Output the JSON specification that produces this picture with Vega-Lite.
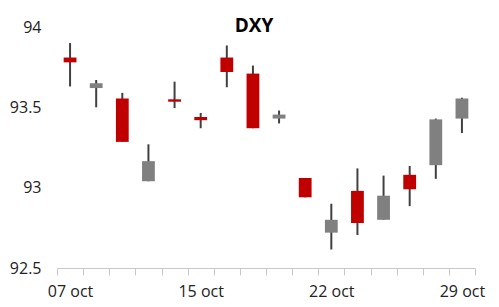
{
  "$schema": "https://vega.github.io/schema/vega-lite/v6.json",
  "autosize": "none",
  "padding": {"left": 57, "top": 27, "right": 24, "bottom": 39},
  "width": 418,
  "height": 241,
  "background": "white",
  "title": {
    "text": "DXY",
    "font": "Open Sans",
    "fontSize": 19,
    "fontWeight": "bold",
    "color": "#000000",
    "anchor": "middle",
    "baseline": "alphabetic",
    "dx": -12,
    "offset": -14,
    "dy": 18
  },
  "config": {
    "view": {"stroke": null},
    "axis": {"labelFont": "Open Sans", "labelFontSize": 16, "labelColor": "#222222", "grid": false, "title": null}
  },
  "data": {
    "values": [
      {"date": "07 oct", "open": 93.81, "high": 93.90, "low": 93.63, "close": 93.78},
      {"date": "08 oct", "open": 93.62, "high": 93.67, "low": 93.50, "close": 93.65},
      {"date": "09 oct", "open": 93.555, "high": 93.59, "low": 93.285, "close": 93.285},
      {"date": "12 oct", "open": 93.04, "high": 93.27, "low": 93.04, "close": 93.165},
      {"date": "13 oct", "open": 93.55, "high": 93.66, "low": 93.495, "close": 93.535},
      {"date": "15 oct", "open": 93.44, "high": 93.465, "low": 93.37, "close": 93.42},
      {"date": "16 oct", "open": 93.81, "high": 93.885, "low": 93.625, "close": 93.72},
      {"date": "19 oct", "open": 93.71, "high": 93.76, "low": 93.37, "close": 93.37},
      {"date": "20 oct", "open": 93.43, "high": 93.48, "low": 93.40, "close": 93.455},
      {"date": "21 oct", "open": 93.06, "high": 93.06, "low": 92.94, "close": 92.94},
      {"date": "22 oct", "open": 92.72, "high": 92.90, "low": 92.615, "close": 92.80},
      {"date": "23 oct", "open": 92.98, "high": 93.12, "low": 92.705, "close": 92.78},
      {"date": "26 oct", "open": 92.80, "high": 93.075, "low": 92.80, "close": 92.95},
      {"date": "27 oct", "open": 93.08, "high": 93.135, "low": 92.885, "close": 92.99},
      {"date": "28 oct", "open": 93.14, "high": 93.43, "low": 93.055, "close": 93.425},
      {"date": "29 oct", "open": 93.43, "high": 93.56, "low": 93.34, "close": 93.555}
    ]
  },
  "encoding": {
    "x": {
      "field": "date",
      "type": "ordinal",
      "sort": null,
      "scale": {"paddingInner": 0, "paddingOuter": 0},
      "axis": {
        "labelAngle": 0,
        "tickBand": "extent",
        "domainColor": "#c8c8c8",
        "tickColor": "#c8c8c8",
        "tickSize": 7,
        "labelPadding": 8,
        "labelExpr": "indexof(['07 oct','15 oct','22 oct','29 oct'], datum.value) >= 0 ? datum.value : ''"
      }
    }
  },
  "layer": [
    {
      "mark": {"type": "rule", "color": "#404040", "strokeWidth": 2},
      "encoding": {
        "y": {
          "field": "low",
          "type": "quantitative",
          "scale": {"domain": [92.5, 94], "zero": false, "nice": false},
          "axis": {"values": [92.5, 93, 93.5, 94], "format": ".1~f", "ticks": false, "domain": false, "labelPadding": 16}
        },
        "y2": {"field": "high"}
      }
    },
    {
      "mark": {"type": "bar", "width": {"band": 0.49}},
      "encoding": {
        "y": {"field": "open", "type": "quantitative"},
        "y2": {"field": "close"},
        "color": {
          "condition": {"test": "datum.open > datum.close", "value": "#C00000"},
          "value": "#808080"
        }
      }
    }
  ]
}
